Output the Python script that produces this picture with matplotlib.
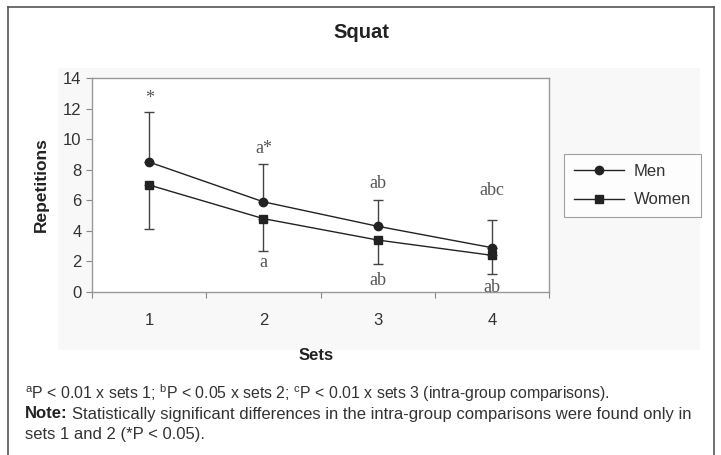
import matplotlib
matplotlib.use("Agg")
import matplotlib.pyplot as plt
from matplotlib.patches import Rectangle
from matplotlib.lines import Line2D

plt.rcParams['font.family'] = ['Liberation Sans', 'DejaVu Sans']
plt.rcParams['mathtext.fontset'] = 'custom'
plt.rcParams['mathtext.rm'] = 'Liberation Sans'

sets = [1, 2, 3, 4]
men = [8.5, 5.9, 4.3, 2.9]
men_sd = [3.25, 2.5, 1.7, 1.8]
women = [7.0, 4.8, 3.4, 2.4]
women_sd = [2.9, 2.1, 1.6, 1.2]
men_marks = ["*", "a*", "ab", "abc"]
women_marks = ["", "a", "ab", "ab"]

txt = "#333333"
fig = plt.figure(figsize=(7.21, 4.55), dpi=100)

# outer frame and light chart area
fc = fig.transFigure
fig.add_artist(Line2D([8/721, 8/721], [0, 1 - 7/455], transform=fc, color="#555555", lw=1.2))
fig.add_artist(Line2D([8/721, 714/721], [1 - 7/455, 1 - 7/455], transform=fc, color="#555555", lw=1.2))
fig.add_artist(Line2D([714/721, 714/721], [0, 1 - 7/455], transform=fc, color="#555555", lw=1.2))
fig.add_artist(Rectangle((58/721, 1 - 350/455), 642/721, 282/455, transform=fc,
                         facecolor="#f8f8f8", edgecolor="none", zorder=-5))

ax = fig.add_axes([92/721, 1 - 292/455, 457/721, 214/455])
ax.set_facecolor("white")
x = [s - 0.5 for s in sets]

ax.errorbar(x, men, yerr=[[0]*4, men_sd], fmt="-o", color="#222222", ms=6, lw=1.0,
            ecolor="#444444", elinewidth=1.0, capsize=3.5)
ax.errorbar(x, women, yerr=[women_sd, [0]*4], fmt="-s", color="#222222", ms=6, lw=1.0,
            ecolor="#444444", elinewidth=1.0, capsize=3.5)

# pixel gaps between the caps and the letters
up_gap = [14, 15, 17, 30]
down_gap = [0, 12, 16, 14]
px = 14 / 214  # data units per pixel on the y axis
for xi, m, sd, lab, g in zip(x, men, men_sd, men_marks, up_gap):
    ax.text(xi, m + sd + g * px, lab, ha="center", va="center", family="Liberation Serif",
            fontsize=13, color="#555555")
for xi, w, sd, lab, g in zip(x, women, women_sd, women_marks, down_gap):
    if lab:
        ax.text(xi, w - sd - g * px, lab, ha="center", va="center", family="Liberation Serif",
                fontsize=13, color="#555555", clip_on=False)

ax.set_xlim(0, 4)
ax.set_ylim(0, 14)
ax.set_yticks(range(0, 15, 2))
ax.set_xticks([0, 1, 2, 3, 4])
ax.set_xticklabels([])
ax.set_xticks(x, minor=True)
ax.set_xticklabels([str(s) for s in sets], minor=True)
ax.tick_params(axis="x", which="minor", length=0, pad=15, labelsize=12, colors=txt)
ax.tick_params(axis="x", which="major", length=4, color="#888888")
ax.tick_params(axis="y", length=4, color="#888888", labelsize=12, labelcolor=txt)
for sp in ax.spines.values():
    sp.set_color("#999999")
    sp.set_linewidth(1.0)

ax.set_ylabel("Repetitions", fontsize=12.5, fontweight="bold", color="#222222", labelpad=10)
fig.text(316/721, 1 - 355/455, "Sets", ha="center", va="center", fontsize=12,
         fontweight="bold", color="#222222")
fig.text(361/721, 1 - 33/455, "Squat", ha="center", va="center", fontsize=14.5,
         fontweight="bold", color="#222222")

handles = [Line2D([], [], color="#222222", marker="o", ms=6, lw=1.0),
           Line2D([], [], color="#222222", marker="s", ms=6, lw=1.0)]
leg = fig.legend(handles, ["Men", "Women"], loc="upper left",
                 bbox_to_anchor=(564/721, 1 - 154/455), frameon=True,
                 fancybox=False, edgecolor="#888888", fontsize=12, handlelength=3.0,
                 labelspacing=0.8, borderpad=0.6, handletextpad=0.6, borderaxespad=0)
leg.get_frame().set_linewidth(0.8)
for t in leg.get_texts():
    t.set_color(txt)

fs = 12
fig.text(25/721, 1 - 393/455,
         r"$^{\rm a}$P < 0.01 x sets 1; $^{\rm b}$P < 0.05 x sets 2; $^{\rm c}$P < 0.01 x sets 3 (intra-group comparisons).",
         ha="left", va="center", fontsize=11.4, color=txt)
note = fig.text(25/721, 1 - 414/455, "Note:", ha="left", va="center", fontsize=fs,
                fontweight="bold", color="#222222")
fig.canvas.draw()
bb = note.get_window_extent()
fig.text(bb.x1 / fig.bbox.width + 4/721, 1 - 414/455,
         "Statistically significant differences in the intra-group comparisons were found only in",
         ha="left", va="center", fontsize=fs, color=txt)
fig.text(25/721, 1 - 434/455, "sets 1 and 2 (*P < 0.05).", ha="left", va="center",
         fontsize=fs, color=txt)

fig.savefig("out.png", dpi=100)
